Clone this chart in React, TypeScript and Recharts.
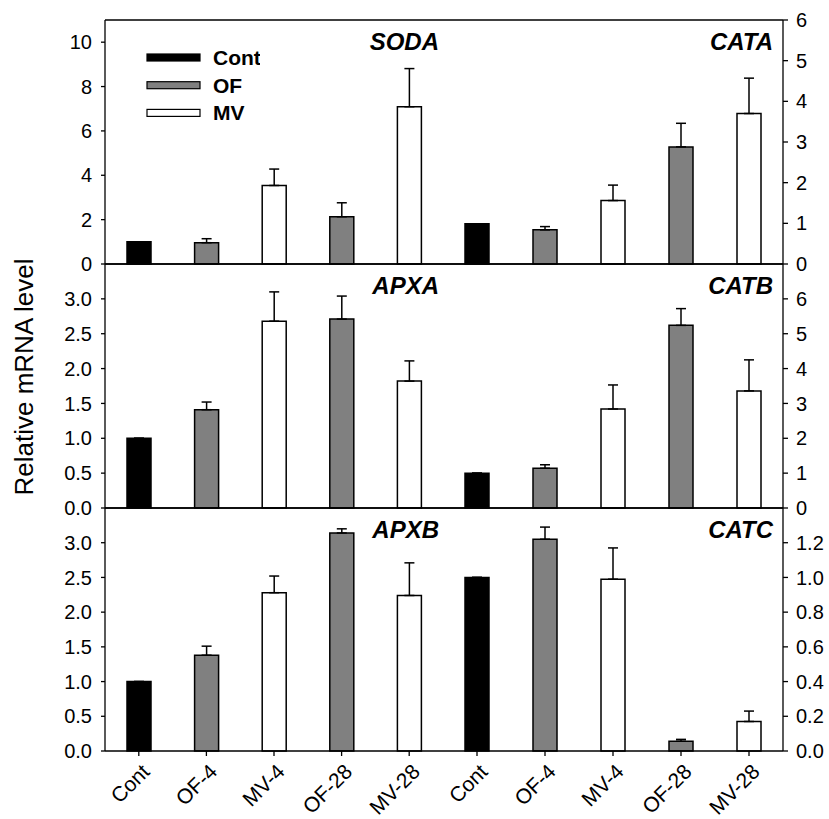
import { BarChart, Bar, XAxis, YAxis, ErrorBar, Cell, ReferenceLine, Legend } from "recharts";

const categories = ["Cont", "OF-4", "MV-4", "OF-28", "MV-28"];
const treatment = ["Cont", "OF", "MV", "OF", "MV"];
const legendNames = ["Cont", "OF", "MV"];

// means and upper error (SE)
const sodaMean = [1.0, 0.96, 3.54, 2.13, 7.09];
const sodaErr = [0, 0.18, 0.74, 0.63, 1.72];
const cataMean = [0.99, 0.84, 1.56, 2.88, 3.7];
const cataErr = [0, 0.08, 0.38, 0.58, 0.87];
const apxaMean = [1.0, 1.41, 2.68, 2.71, 1.82];
const apxaErr = [0, 0.11, 0.42, 0.33, 0.29];
const catbMean = [1.0, 1.14, 2.84, 5.24, 3.36];
const catbErr = [0, 0.1, 0.69, 0.48, 0.89];
const apxbMean = [1.0, 1.38, 2.28, 3.14, 2.24];
const apxbErr = [0, 0.13, 0.24, 0.06, 0.47];
const catcMean = [1.0, 1.22, 0.99, 0.056, 0.17];
const catcErr = [0, 0.07, 0.18, 0.011, 0.06];

const sodaTicks = [0, 2, 4, 6, 8, 10];
const cataTicks = [0, 1, 2, 3, 4, 5, 6];
const apxTicks = [0, 0.5, 1, 1.5, 2, 2.5, 3];
const catbTicks = [0, 1, 2, 3, 4, 5, 6];
const catcTicks = [0, 0.2, 0.4, 0.6, 0.8, 1.0, 1.2];

const fills: Record<string, string> = { Cont: "#000000", OF: "#808080", MV: "#ffffff" };
const FONT = '"Liberation Sans", Arial, sans-serif';

// panels overlap a little so the edge tick labels stay inside each svg
const rows = [
  { top: 0, marginTop: 20, marginBottom: 12, xHeight: 6, height: 282, tickSize: 4 },
  { top: 254, marginTop: 10, marginBottom: 12, xHeight: 6, height: 272, tickSize: 4 },
  { top: 498, marginTop: 10, marginBottom: 0, xHeight: 68, height: 321, tickSize: 5 },
];

function XTick(props: any) {
  const { x, y, payload } = props;
  const ax = x + 12;
  const ay = y + 15;
  return (
    <text x={ax} y={ay} textAnchor="end" transform={`rotate(-45 ${ax} ${ay})`}
      fontSize={21} fontFamily={FONT} fill="#000">
      {payload.value}
    </text>
  );
}

function LegendBox() {
  return (
    <svg width={120} height={90}>
      {legendNames.map((n, i) => {
        const cy = 17.5 + i * 27.7;
        return (
          <g key={n}>
            <rect x={7} y={cy - 3.5} width={53} height={7} fill={fills[n]} stroke="#000" strokeWidth={1.2} />
            <text x={73} y={cy + 7.5} fontSize={21} fontWeight="bold" fontFamily={FONT} fill="#000">{n}</text>
          </g>
        );
      })}
    </svg>
  );
}

type PanelProps = {
  gene: string;
  mean: number[];
  err: number[];
  domain: [number, number];
  ticks: number[];
  digits: number;
  side: "left" | "right";
  row: number;
  legend?: boolean;
  yLabel?: boolean;
};

function Panel({ gene, mean, err, domain, ticks, digits, side, row, legend, yLabel }: PanelProps) {
  const data = categories.map((name, i) => ({
    name,
    group: treatment[i],
    mean: mean[i],
    err: [0, err[i]],
  }));
  const r = rows[row];
  const isLeft = side === "left";
  const width = isLeft ? 443 : 386;
  const inset = isLeft ? 4 : 10;

  const valueAxis = (
    <YAxis
      yAxisId="v"
      orientation={isLeft ? "left" : "right"}
      width={isLeft ? 105 : 46}
      type="number"
      domain={domain}
      ticks={ticks}
      interval={0}
      tickFormatter={(v: number) => v.toFixed(digits)}
      tick={{ fill: "#000", fontSize: 20, fontFamily: FONT }}
      tickSize={isLeft ? 4 : 5}
      tickMargin={isLeft ? 9 : 8}
      axisLine={{ stroke: "#000", strokeWidth: 1.3 }}
      tickLine={{ stroke: "#000", strokeWidth: 1.3 }}
      label={
        yLabel
          ? (p: any) => {
              const vb = p.viewBox || {};
              const cx = 33;
              const cy = (vb.y ?? 0) + (vb.height ?? 0) / 2 - 9;
              return (
                <text x={cx} y={cy} textAnchor="middle" transform={`rotate(-90 ${cx} ${cy})`}
                  fontSize={26} fontFamily={FONT} fill="#000">
                  Relative mRNA level
                </text>
              );
            }
          : undefined
      }
    />
  );
  const edgeAxis = (
    <YAxis
      yAxisId="edge"
      orientation={isLeft ? "right" : "left"}
      width={0}
      type="number"
      domain={[0, 1]}
      tick={false}
      tickLine={false}
      axisLine={{ stroke: "#000", strokeWidth: 1.3 }}
    />
  );

  return (
    <div style={{ position: "absolute", left: isLeft ? 0 : 443, top: r.top }}>
      <BarChart
        width={width}
        height={r.height}
        data={data}
        margin={{ top: r.marginTop, right: 0, bottom: r.marginBottom, left: 0 }}
        barCategoryGap="10%"
      >
        <XAxis
          dataKey="name"
          height={r.xHeight}
          interval={0}
          tickSize={r.tickSize}
          tickMargin={2}
          tick={row === 2 ? <XTick /> : false}
          axisLine={{ stroke: "#000", strokeWidth: 1.3 }}
          tickLine={{ stroke: "#000", strokeWidth: 1.3 }}
        />
        {isLeft ? valueAxis : edgeAxis}
        {isLeft ? edgeAxis : valueAxis}
        <ReferenceLine
          yAxisId="v"
          y={domain[1]}
          stroke="#000"
          strokeWidth={1.3}
          label={(p: any) => {
            const vb = p.viewBox || {};
            const xr = (vb.x ?? 0) + (vb.width ?? 0) - inset;
            return (
              <text x={xr} y={(vb.y ?? 0) + 30} textAnchor="end" fontSize={24} fontWeight="bold"
                fontStyle="italic" fontFamily={FONT} fill="#000">
                {gene}
              </text>
            );
          }}
        />
        {legend && (
          <Legend
            layout="vertical"
            align="center"
            verticalAlign="middle"
            wrapperStyle={{ left: 140, top: 40, width: 120, height: 90 }}
            content={() => <LegendBox />}
          />
        )}
        <Bar yAxisId="v" dataKey="mean" barSize={24} stroke="#000" strokeWidth={1.5} isAnimationActive={false}>
          {data.map((d) => (
            <Cell key={d.name} fill={fills[d.group]} />
          ))}
          <ErrorBar dataKey="err" direction="y" width={5} stroke="#000" strokeWidth={1.5} isAnimationActive={false} />
        </Bar>
      </BarChart>
    </div>
  );
}

export default function App() {
  return (
    <div style={{ position: "absolute", left: 0, top: 0, width: 829, height: 819, background: "#fff" }}>
      <Panel gene="SODA" mean={sodaMean} err={sodaErr} domain={[0, 11]} ticks={sodaTicks} digits={0} side="left" row={0} legend />
      <Panel gene="CATA" mean={cataMean} err={cataErr} domain={[0, 6]} ticks={cataTicks} digits={0} side="right" row={0} />
      <Panel gene="APXA" mean={apxaMean} err={apxaErr} domain={[0, 3.5]} ticks={apxTicks} digits={1} side="left" row={1} yLabel />
      <Panel gene="CATB" mean={catbMean} err={catbErr} domain={[0, 7]} ticks={catbTicks} digits={0} side="right" row={1} />
      <Panel gene="APXB" mean={apxbMean} err={apxbErr} domain={[0, 3.5]} ticks={apxTicks} digits={1} side="left" row={2} />
      <Panel gene="CATC" mean={catcMean} err={catcErr} domain={[0, 1.4]} ticks={catcTicks} digits={1} side="right" row={2} />
    </div>
  );
}
